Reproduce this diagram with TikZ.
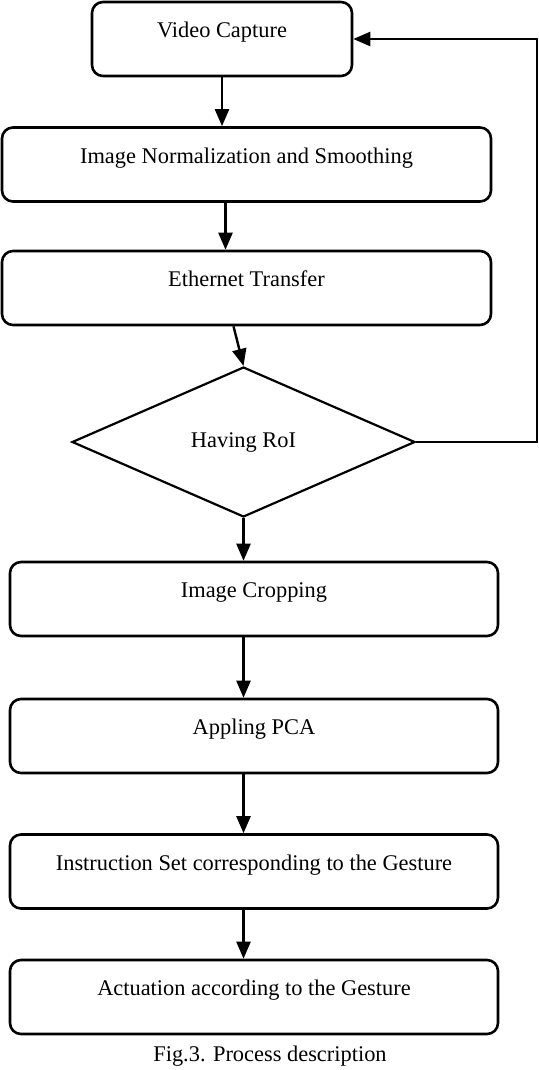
\documentclass[tikz,border=0pt]{standalone}
\usepackage{fontspec}
\setmainfont{Liberation Serif}
\usetikzlibrary{shapes.geometric,arrows.meta}

\tikzset{
  stepbox/.style={draw, line width=2.6pt, rounded corners=11pt, minimum height=74pt,
    text height=14pt, text depth=17pt, font=\fontsize{22.4}{26}\selectfont},
  decide/.style={draw, diamond, line width=2.2pt, minimum width=343pt, minimum height=150pt,
    font=\fontsize{22.4}{26}\selectfont},
  arr/.style={line width=2.4pt, -{Triangle[width=14pt,length=17pt]}}
}

\begin{document}
\begin{tikzpicture}[x=1pt,y=-1pt]
\useasboundingbox (0,0) rectangle (538,1070);
\node[stepbox, minimum width=260pt] (vc) at (222,39) {Video Capture};
\node[stepbox, minimum width=489pt] (norm) at (246.5,164.5) {Image Normalization and Smoothing};
\node[stepbox, minimum width=489pt] (eth) at (246.5,288) {Ethernet Transfer};
\node[decide] (roi) at (243.5,442) {Having RoI};
\node[stepbox, minimum width=488pt] (crop) at (254,599) {Image Cropping};
\node[stepbox, minimum width=488pt] (pca) at (254,736) {Appling PCA};
\node[stepbox, minimum width=488pt] (inst) at (254,871.5) {Instruction Set corresponding to the Gesture};
\node[stepbox, minimum width=488pt] (act) at (254,997) {Actuation according to the Gesture};
\node[font=\fontsize{22.4}{26}\selectfont] (cap) at (270,1056) {Fig.3. Process description};
\coordinate (back) at (537,442);
% flow
\draw[arr] (vc.south) -- (vc.south |- norm.north);
\draw[arr] ([xshift=-21pt]norm.south) -- ([xshift=-21pt]eth.north);
\draw[arr] ([xshift=-13pt]eth.south) -- (roi.north);
\draw[arr] (roi.south) -- (roi.south |- crop.north);
\draw[arr] ([xshift=-10.5pt]crop.south) -- ([xshift=-10.5pt]pca.north);
\draw[arr] ([xshift=-10.5pt]pca.south) -- ([xshift=-10.5pt]inst.north);
\draw[arr] ([xshift=-10.5pt]inst.south) -- ([xshift=-10.5pt]act.north);
% loop back
\draw[arr] (roi.east) -- (back) |- (vc.east);
\end{tikzpicture}
\end{document}
